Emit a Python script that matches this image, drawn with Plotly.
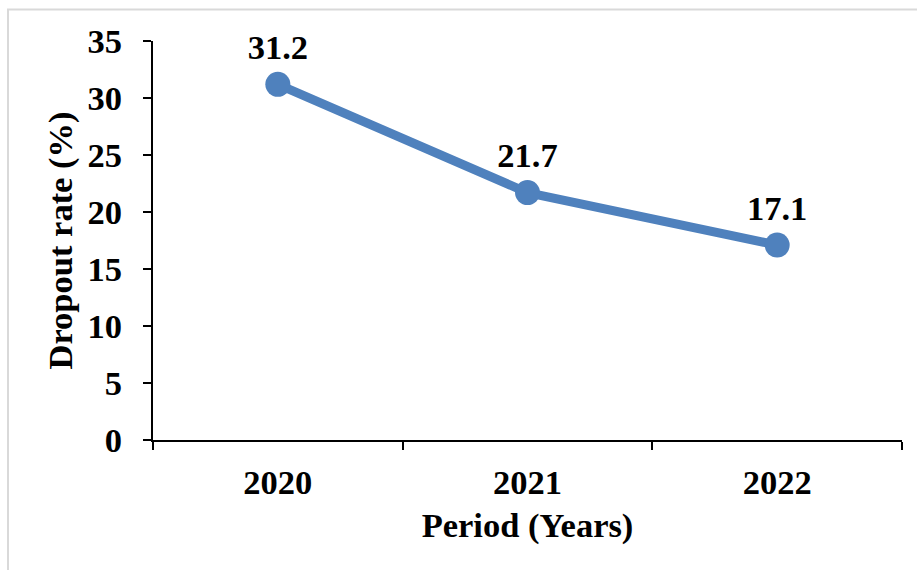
import plotly.graph_objects as go

years = ["2020", "2021", "2022"]
dropout = [31.2, 21.7, 17.1]
y_ticks = [0, 5, 10, 15, 20, 25, 30, 35]

W, H = 917, 570
L, R, T, B = 153, 15, 41, 130
pw, ph = W - L - R, H - T - B

FONT = "Liberation Serif"
BLUE = "#4F81BD"
FS = 34.5

fig = go.Figure()
fig.add_trace(go.Scatter(
    x=years, y=dropout, mode="lines+markers+text",
    line=dict(color=BLUE, width=9),
    marker=dict(color=BLUE, size=25),
    text=[f"{v:.1f}" for v in dropout],
    textposition="top center",
    textfont=dict(family=FONT, size=FS, color="#000000", weight="bold"),
    cliponaxis=False,
    hoverinfo="skip",
))

def px_to_paper_x(px):
    return (px - L) / pw

def px_to_paper_y(py):
    return (H - B - py) / ph

fig.add_shape(type="rect", xref="paper", yref="paper",
              x0=px_to_paper_x(8), x1=px_to_paper_x(940),
              y0=px_to_paper_y(600), y1=px_to_paper_y(9.5),
              line=dict(color="#d9d9d9", width=2), fillcolor="rgba(0,0,0,0)",
              layer="below")

fig.update_layout(
    width=W, height=H,
    margin=dict(l=L, r=R, t=T, b=B),
    paper_bgcolor="white", plot_bgcolor="white",
    showlegend=False,
    font=dict(family=FONT, size=FS, color="#000000", weight="bold"),
    xaxis=dict(
        type="category", range=[-0.5, 2.5],
        showline=True, linecolor="#000000", linewidth=2,
        ticks="outside", ticklen=8, tickwidth=2, tickcolor="#000000",
        tickson="boundaries", showgrid=False, zeroline=False,
        tickfont=dict(family=FONT, size=FS, color="#000000", weight="bold"),
        ticklabelstandoff=11,
        title=dict(text="Period (Years)", standoff=12,
                   font=dict(family=FONT, size=FS, color="#000000", weight="bold")),
    ),
    yaxis=dict(
        range=[0, 35], tickvals=y_ticks,
        showline=True, linecolor="#000000", linewidth=2,
        ticks="outside", ticklen=8, tickwidth=2, tickcolor="#000000",
        showgrid=False, zeroline=False,
        tickfont=dict(family=FONT, size=FS, color="#000000", weight="bold"),
        ticklabelstandoff=14,
        title=dict(text="Dropout rate (%)", standoff=5,
                   font=dict(family=FONT, size=FS, color="#000000", weight="bold")),
    ),
)

fig.write_html("out.html")
